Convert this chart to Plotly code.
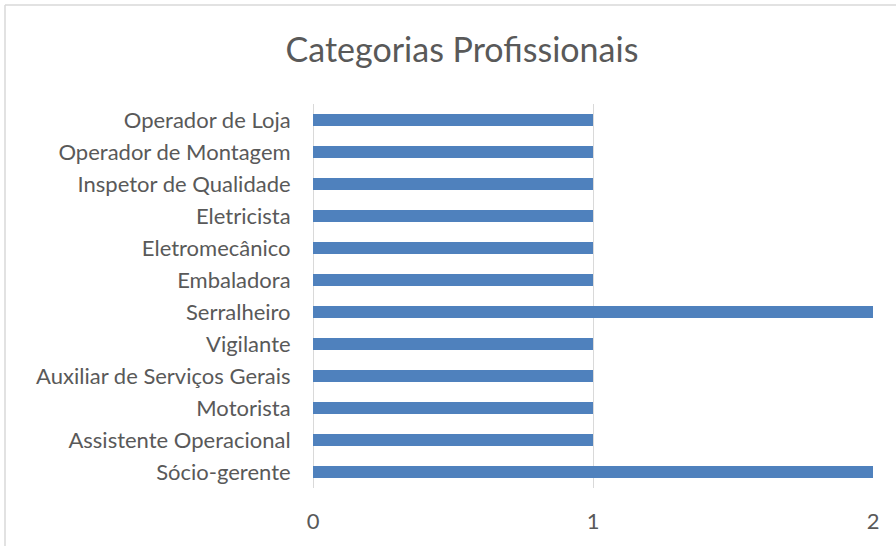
import plotly.graph_objects as go

categories = ["Sócio-gerente", "Assistente Operacional", "Motorista",
              "Auxiliar de Serviços Gerais", "Vigilante", "Serralheiro",
              "Embaladora", "Eletromecânico", "Eletricista",
              "Inspetor de Qualidade", "Operador de Montagem", "Operador de Loja"]
values = [2, 1, 1, 1, 1, 2, 1, 1, 1, 1, 1, 1]
x_ticks = [0, 1, 2]

W, H = 896, 546
L, R, T, B = 313, 23, 104, 58
pw, ph = W - L - R, H - T - B

fig = go.Figure(go.Bar(
    y=categories, x=values, orientation="h",
    marker=dict(color="#4f81bd", line=dict(width=0)),
))

font = "Lato, 'Open Sans', sans-serif"
fig.update_layout(
    width=W, height=H,
    margin=dict(l=L, r=R, t=T, b=B, pad=0, autoexpand=False),
    paper_bgcolor="white", plot_bgcolor="white",
    bargap=0.62,
    showlegend=False,
    title=dict(text="Categorias Profissionais", x=(462) / W, xanchor="center",
               y=1 - 50 / H, yanchor="middle",
               font=dict(family=font, size=34, color="#595959")),
    font=dict(family=font, color="#595959"),
)
fig.update_xaxes(range=[0, 2], tickvals=x_ticks, showgrid=True, gridcolor="#d9d9d9",
                 gridwidth=1, zeroline=True, zerolinecolor="#d9d9d9", zerolinewidth=1,
                 showline=False, ticks="outside", ticklen=14, tickcolor="rgba(0,0,0,0)",
                 tickfont=dict(size=22, color="#595959"), automargin=False)
fig.update_yaxes(showgrid=False, ticks="outside", ticklen=17, tickcolor="rgba(0,0,0,0)",
                 tickfont=dict(size=22, color="#595959"), showline=False, automargin=False)

# chart border (left and top edges)
x0 = (5 - L) / pw
y0 = (H - B - 5) / ph
fig.add_shape(type="line", xref="paper", yref="paper", x0=x0, x1=x0, y0=y0, y1=-1,
              line=dict(color="#d9d9d9", width=1.5))
fig.add_shape(type="line", xref="paper", yref="paper", x0=x0, x1=2, y0=y0, y1=y0,
              line=dict(color="#d9d9d9", width=1.5))

fig.write_html("out.html", config={"displayModeBar": False},
               post_script="document.body.style.margin='0';")
